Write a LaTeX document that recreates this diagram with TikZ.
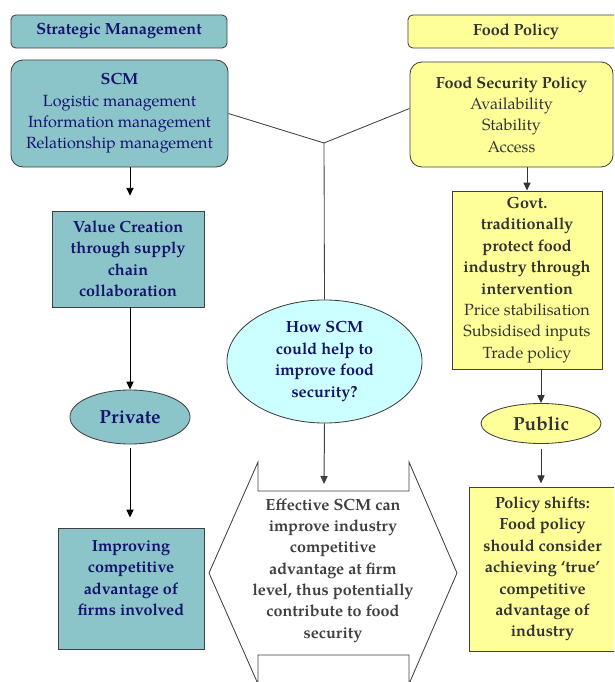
\documentclass[tikz,border=0pt]{standalone}
\usepackage{fontspec}
\setmainfont{TeX Gyre Pagella}
\usetikzlibrary{arrows.meta,shapes.geometric}
\definecolor{scmteal}{HTML}{8CC5C9}
\definecolor{polyellow}{HTML}{FFFF99}
\definecolor{askcyan}{HTML}{CCFFFF}
\definecolor{scmnavy}{HTML}{14146E}
\definecolor{polgray}{HTML}{333333}
\definecolor{edgegray}{HTML}{404040}
\newcommand{\boxfont}{\fontsize{11.5}{15.2}\selectfont}
\begin{document}
\begin{tikzpicture}[x=0.025cm, y=-0.025cm, >={Triangle[length=0.2cm,width=0.18cm]},
		every node/.style={inner sep=0pt, align=center, font=\boxfont},
		box/.style={draw=edgegray, line width=0.6pt},
		mgmt/.style={box, fill=scmteal, text=scmnavy},
		pol/.style={box, fill=polyellow, text=polgray},
		bold/.style={font=\boxfont\bfseries},
		big/.style={font=\fontsize{13.5}{16}\selectfont\bfseries},
		link/.style={line width=0.6pt, edgegray},
		arrow/.style={->, line width=0.7pt}]
		\useasboundingbox (0,0) rectangle (614,682);
		\clip (0,0) rectangle (614,682);
		% headers
		\node[mgmt, bold, rounded corners=0.12cm, minimum width=5.4cm, minimum height=0.825cm] (strat) at (119,31.5) {Strategic Management};
		\node[pol, bold, rounded corners=0.12cm, minimum width=5.4cm, minimum height=0.825cm] (foodpol) at (516,31.5) {Food Policy};
		% left column
		\node[mgmt, rounded corners=0.3cm, minimum width=5.425cm, minimum height=2.675cm] (scm) at (119.5,113.5) {\textbf{SCM}\\Logistic management\\Information management\\Relationship management};
		\node[mgmt, bold, minimum width=3.8cm, minimum height=2.4cm] (value) at (128,259) {Value Creation\\through supply\\chain\\collaboration};
		\node[mgmt, big, ellipse, minimum width=3cm, minimum height=1.35cm] (private) at (130,417) {Private};
		\node[mgmt, bold, minimum width=3.65cm, minimum height=3.025cm] (improv) at (131,588.5) {Improving\\competitive\\advantage of\\firms involved\\\mbox{}};
		% right column
		\node[pol, rounded corners=0.3cm, minimum width=5.075cm, minimum height=2.625cm] (fsp) at (511.5,114.5) {\textbf{Food Security Policy}\\Availability\\Stability\\Access};
		\node[pol, minimum width=3.75cm, minimum height=4.45cm] (govt) at (527,280) {\textbf{Govt.}\\\textbf{traditionally}\\\textbf{protect food}\\\textbf{industry through}\\\textbf{intervention}\\Price stabilisation\\Subsidised inputs\\Trade policy};
		\node[pol, big, ellipse, minimum width=3cm, minimum height=1cm] (public) at (541,423.5) {Public};
		\node[pol, bold, minimum width=3.675cm, minimum height=4.1cm] (policy) at (542.5,569) {Policy shifts:\\Food policy\\should consider\\achieving ‘true’\\competitive\\advantage of\\industry};
		% middle
		\node[box, bold, ellipse, fill=askcyan, text=scmnavy, minimum width=4.875cm, minimum height=3.075cm] (quest) at (324.5,361.5) {How SCM\\could help to\\improve food\\security?};
		\draw[link, fill=white] (258,462) -- (258,491) -- (409,491) -- (409,462) -- (457,573) -- (409,684) -- (409,655) -- (258,655) -- (258,684) -- (209,573) -- cycle;
		\node[bold, text=edgegray] (effect) at (333,570.5) {Effective SCM can\\improve industry\\competitive\\advantage at firm\\level, thus potentially\\contribute to food\\security};
		\coordinate (junc) at (324,143);
		\coordinate (hexin) at (324,484);
		\draw[link] (scm.east) -- (junc) -- ([yshift=0.15cm]fsp.west);
		\draw[link] (junc) -- (quest.north);
		\draw[arrow, edgegray] (quest.south) -- (hexin);
		% arrows
		\draw[arrow, shorten >=0.37cm] (scm.south -| private) -- (value.north -| private);
		\draw[arrow] (value.south -| private) -- (private.north);
		\draw[arrow, shorten <=0.1cm, shorten >=0.25cm] (private.south) -- (improv.north -| private);
		\draw[arrow, polgray] (fsp.south -| govt.north) -- (govt.north);
		\draw[arrow, polgray] (govt.south -| public) -- (public.north);
		\draw[arrow, polgray, shorten <=0.12cm, shorten >=0.08cm] (public.south) -- (policy.north -| public);
\end{tikzpicture}
\end{document}
